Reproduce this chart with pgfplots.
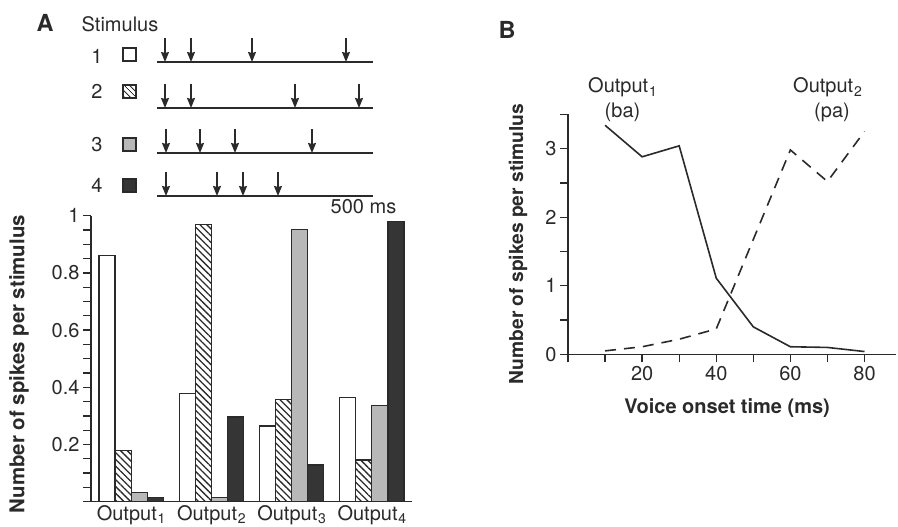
\documentclass[border=0pt]{standalone}
\usepackage{fontspec}
\setmainfont{TeX Gyre Heros}
\usepackage{pgfplots}
\pgfplotsset{compat=1.18}
\usetikzlibrary{patterns.meta,arrows.meta}
\definecolor{ink}{HTML}{2A2A2A}
\definecolor{stip}{HTML}{B8B8B8}
\definecolor{barblack}{HTML}{353535}
\newcommand{\tl}{\fontsize{20}{22}\selectfont}
\newcommand{\sub}[1]{\kern0.8pt\raisebox{-4pt}{\fontsize{14}{14}\selectfont #1}}
\newcommand{\subA}[1]{\kern0.8pt\raisebox{-3pt}{\fontsize{14}{14}\selectfont #1}}
\begin{document}
\begin{tikzpicture}
\path[use as bounding box] (0pt,0pt) rectangle (898pt,527pt);
\pgfplotsset{
  common/.style={
    scale only axis, anchor=south west,
    axis x line*=bottom, axis y line*=left,
    axis line style={ink, line width=1.4pt},
    tick style={ink, line width=1.3pt},
    tick align=outside,
    major tick length=8pt, minor tick length=8pt,
    tick label style={font=\tl, text=ink},
    /pgf/number format/assume math mode=true,
  }
}
% Panel A
\begin{axis}[common,
  at={(91pt,25.3pt)}, width=321pt, height=286pt,
  xmin=0.5, xmax=4.5, ymin=0, ymax=1,
  clip=false,
  bar width=0.2,
  xtick={1,2,3,4},
  xticklabels={Output\subA{1},Output\subA{2},Output\subA{3},Output\subA{4}},
  xtick style={draw=none},
  minor xtick={0.5,1.5,2.5,3.5,4.5},
  minor x tick style={ink, line width=1.3pt},
  xticklabel style={yshift=5pt, inner sep=1pt},
  ytick={0,0.2,0.4,0.6,0.8,1},
  yticklabels={,0.2,0.4,0.6,0.8,1},
  minor ytick={0,0.05,...,1.0},
  ylabel={Number of spikes per stimulus},
  ylabel style={font=\fontsize{20.4}{22}\selectfont\bfseries, text=ink,
    at={(axis description cs:-0.224,0.481)}, anchor=center},
]
\addplot[ybar, bar shift=-0.3, draw=ink, line width=1.2pt, fill=white]
  coordinates {(1,0.860) (2,0.377) (3,0.265) (4,0.365)};
\addplot[ybar, bar shift=-0.1, draw=ink, line width=1.2pt,
  pattern={Lines[angle=-45,distance=4.8pt,line width=1.3pt]}, pattern color=ink]
  coordinates {(1,0.178) (2,0.970) (3,0.356) (4,0.146)};
\addplot[ybar, bar shift=0.1, draw=ink, line width=1.2pt, fill=stip]
  coordinates {(1,0.033) (2,0.014) (3,0.952) (4,0.336)};
\addplot[ybar, bar shift=0.3, draw=ink, line width=1.2pt, fill=barblack]
  coordinates {(1,0.014) (2,0.296) (3,0.128) (4,0.979)};
\end{axis}

% Panel B
\begin{axis}[common,
  at={(568pt,172.7pt)}, width=328pt, height=240pt,
  xmin=0, xmax=88.5, ymin=0, ymax=3.5,
  clip=false,
  xtick={0,10,...,80},
  xticklabels={,,20,,40,,60,,80},
  ytick={0,1,2,3},
  minor ytick={0.5,1.5,2.5,3.5},
  xlabel={Voice onset time (ms)},
  xlabel style={font=\fontsize{20}{22}\selectfont\bfseries, text=ink,
    at={(axis description cs:0.485,-0.224)}, anchor=center},
  ylabel={Number of spikes per stimulus},
  ylabel style={font=\fontsize{19.2}{21}\selectfont\bfseries, text=ink,
    at={(axis description cs:-0.152,0.46)}, anchor=center},
]
\addplot[ink, line width=1.6pt]
  coordinates {(10,3.34) (20,2.88) (30,3.04) (40,1.11) (50,0.40) (60,0.11) (70,0.10) (80,0.04)};
\addplot[ink, line width=1.6pt, dash pattern=on 11pt off 8pt]
  coordinates {(10,0.05) (20,0.11) (30,0.22) (40,0.37) (60,2.98) (70,2.52) (80,3.25)};
\end{axis}

% Overlay: stimulus diagram and panel letters (coordinates in picture units)
\begin{axis}[
  at={(0pt,0pt)}, anchor=south west, scale only axis,
  width=898pt, height=527pt,
  xmin=0, xmax=898, ymin=0, ymax=527,
  hide axis, clip=false,
]
% timelines
\addplot[ink, line width=1.4pt] coordinates {(157,465) (373,465)};
\addplot[ink, line width=1.4pt] coordinates {(157,419) (373,419)};
\addplot[ink, line width=1.4pt] coordinates {(157,374) (373,374)};
\addplot[ink, line width=1.4pt] coordinates {(157,331) (373,331)};
% stimulus arrows
\addplot[ink, line width=1.2pt, quiver={u=0,v=-24}, -{Stealth[length=10pt,width=8pt,inset=1pt]}]
  coordinates {(165,489) (191,489) (252,489) (346,489)};
\addplot[ink, line width=1.2pt, quiver={u=0,v=-24}, -{Stealth[length=10pt,width=8pt,inset=1pt]}]
  coordinates {(165,443) (191,443) (295,443) (359,443)};
\addplot[ink, line width=1.2pt, quiver={u=0,v=-24}, -{Stealth[length=10pt,width=8pt,inset=1pt]}]
  coordinates {(166,398) (200,398) (235,398) (312,398)};
\addplot[ink, line width=1.2pt, quiver={u=0,v=-24}, -{Stealth[length=10pt,width=8pt,inset=1pt]}]
  coordinates {(166,355) (217,355) (243,355) (278,355)};
% legend boxes
\draw[ink, line width=1.2pt, fill=white] (axis cs:123,466) rectangle (axis cs:136,479);
\draw[ink, line width=1.2pt, pattern={Lines[angle=-45,distance=4pt,line width=1.1pt]}, pattern color=ink] (axis cs:123,429) rectangle (axis cs:136,442);
\draw[ink, line width=1.2pt, fill=stip] (axis cs:123,376) rectangle (axis cs:136,389);
\draw[ink, line width=1.2pt, fill=barblack] (axis cs:123,335) rectangle (axis cs:136,348);
% texts
\node[font=\tl, text=ink] at (axis cs:97,471) {1};
\node[font=\tl, text=ink] at (axis cs:97,436) {2};
\node[font=\tl, text=ink] at (axis cs:97,382) {3};
\node[font=\tl, text=ink] at (axis cs:97,342) {4};
\node[font=\tl, text=ink] at (axis cs:120,503) {Stimulus};
\node[font=\tl, text=ink] at (axis cs:363.5,320) {500 ms};
\node[font=\fontsize{23.5}{25}\selectfont\bfseries, text=ink] at (axis cs:45,504) {A};
\node[font=\fontsize{23.5}{25}\selectfont\bfseries, text=ink] at (axis cs:507,497) {B};
\node[font=\tl, text=ink, anchor=base west, inner sep=0pt] at (axis cs:588,434) {Output\sub{1}};
\node[font=\tl, text=ink] at (axis cs:622.5,415) {(ba)};
\node[font=\tl, text=ink, anchor=base west, inner sep=0pt] at (axis cs:793,434) {Output\sub{2}};
\node[font=\tl, text=ink] at (axis cs:832,415) {(pa)};
\end{axis}
\end{tikzpicture}
\end{document}
